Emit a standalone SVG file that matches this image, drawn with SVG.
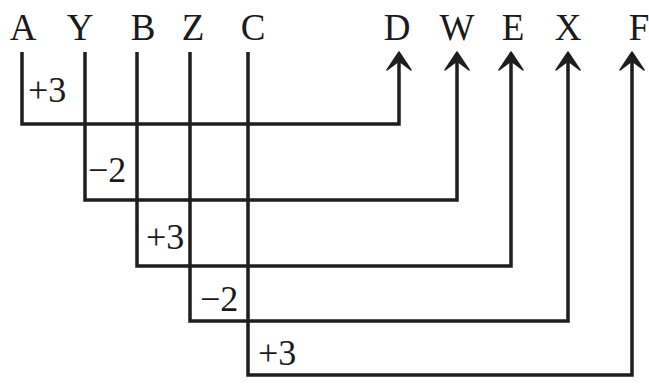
<svg xmlns="http://www.w3.org/2000/svg" width="649" height="384" viewBox="0 0 649 384">
<style>
.node{font-family:"Liberation Serif","Times New Roman",serif;font-size:37px;fill:#1a1a1a;text-anchor:middle}
.lbl{font-family:"Liberation Serif","Times New Roman",serif;font-size:36px;fill:#1a1a1a}
.wire{fill:none;stroke:#1e1e1e;stroke-width:3.5;stroke-linejoin:miter;marker-end:url(#arr)}
</style>
<defs>
<marker id="arr" markerUnits="userSpaceOnUse" viewBox="-20 -13 24 26" markerWidth="24" markerHeight="26" refX="-6" refY="0" orient="auto">
<path d="M0,0 L-18,-12 L-9,0 L-18,12 Z" fill="#1e1e1e" stroke="#1e1e1e" stroke-width="1.5" stroke-linejoin="round"/>
</marker>
</defs>
<rect width="649" height="384" fill="#ffffff"/>
<g id="A"><text class="node" x="23" y="40">A</text></g>
<g id="Y"><text class="node" x="80" y="40">Y</text></g>
<g id="B"><text class="node" x="143" y="40">B</text></g>
<g id="Z"><text class="node" x="193" y="40">Z</text></g>
<g id="C"><text class="node" x="253" y="40">C</text></g>
<g id="D"><text class="node" x="397" y="40">D</text></g>
<g id="W"><text class="node" x="457" y="40">W</text></g>
<g id="E"><text class="node" x="513" y="40">E</text></g>
<g id="X"><text class="node" x="568" y="40">X</text></g>
<g id="F"><text class="node" x="639" y="40">F</text></g>
<g id="connectors">
<path class="wire" d="M22,52 V124 H399 V58"/>
<path class="wire" d="M85,52 V200 H457 V58"/>
<path class="wire" d="M137,52 V266 H511 V58"/>
<path class="wire" d="M190,52 V321 H568 V58"/>
<path class="wire" d="M248,52 V375 H632 V58"/>
<text class="lbl" x="28" y="102">+3</text>
<text class="lbl" x="88" y="182">−2</text>
<text class="lbl" x="146" y="249">+3</text>
<text class="lbl" x="200" y="311">−2</text>
<text class="lbl" x="258" y="365">+3</text>
</g>
</svg>
